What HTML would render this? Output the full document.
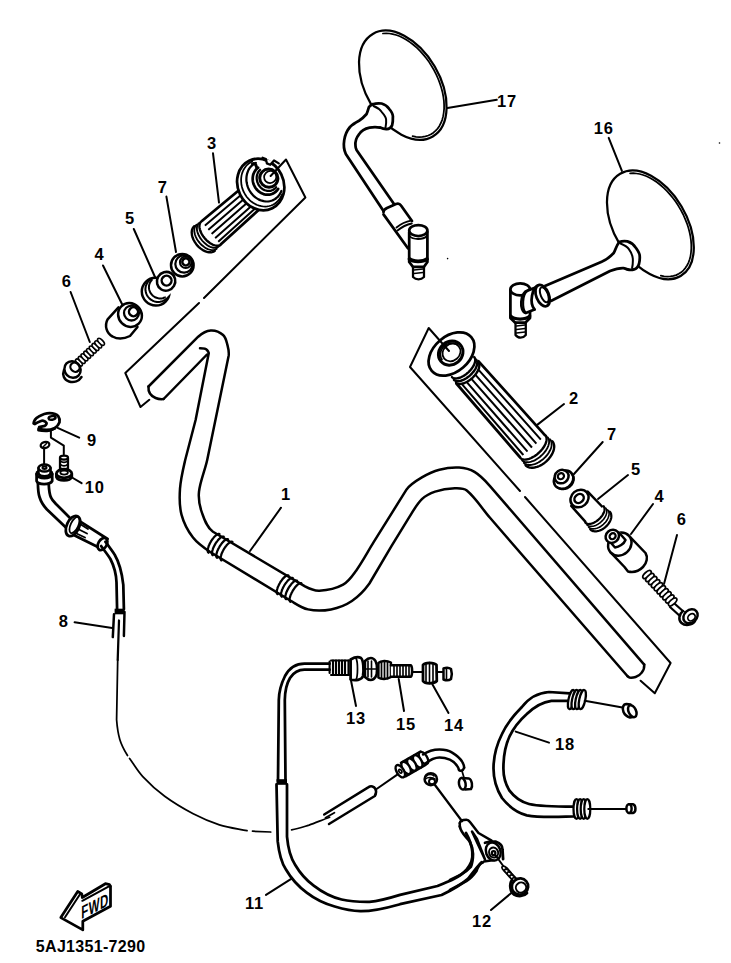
<!DOCTYPE html>
<html><head><meta charset="utf-8"><style>
html,body{margin:0;padding:0;background:#fff;width:731px;height:963px;overflow:hidden}
svg{display:block}
text{font-family:"Liberation Sans",sans-serif;font-weight:bold;font-size:16.5px;letter-spacing:0.7px;stroke:none;text-anchor:middle;fill:#000}
</style></head><body>
<svg width="731" height="963" viewBox="0 0 731 963">
<g fill="none" stroke="#000" stroke-linecap="round" stroke-linejoin="round">
<text x="286" y="499.9">1</text>
<text x="574" y="403.9">2</text>
<text x="212" y="148.9">3</text>
<text x="99.4" y="259.9">4</text>
<text x="130" y="223.6">5</text>
<text x="66.8" y="286.9">6</text>
<text x="162.6" y="192.9">7</text>
<text x="659.5" y="501.9">4</text>
<text x="636" y="474.9">5</text>
<text x="681.7" y="525.4">6</text>
<text x="612" y="439.9">7</text>
<text x="63.6" y="626.5">8</text>
<text x="92" y="445.9">9</text>
<text x="94.7" y="492.9">10</text>
<text x="254.4" y="908.9">11</text>
<text x="482" y="926.9">12</text>
<text x="356" y="723.9">13</text>
<text x="454" y="730.9">14</text>
<text x="406" y="729.5">15</text>
<text x="603.7" y="133.9">16</text>
<text x="507" y="106.9">17</text>
<text x="565" y="749.9">18</text>
<line x1="281" y1="507.7" x2="250" y2="551" stroke-width="2.00"/>
<line x1="564" y1="404" x2="537.5" y2="424.6" stroke-width="2.00"/>
<line x1="213" y1="153.3" x2="219" y2="202.6" stroke-width="2.00"/>
<line x1="103" y1="265.5" x2="122" y2="304" stroke-width="2.00"/>
<line x1="133.8" y1="229" x2="155" y2="277" stroke-width="2.00"/>
<line x1="70.6" y1="292" x2="89.8" y2="342" stroke-width="2.00"/>
<line x1="166.4" y1="196.6" x2="176" y2="252" stroke-width="2.00"/>
<line x1="653" y1="504" x2="631" y2="534" stroke-width="2.00"/>
<line x1="628" y1="475" x2="598" y2="499" stroke-width="2.00"/>
<line x1="677" y1="535" x2="664" y2="584" stroke-width="2.00"/>
<line x1="602.7" y1="442" x2="574" y2="474" stroke-width="2.00"/>
<line x1="74.6" y1="622.3" x2="112.2" y2="627.9" stroke-width="2.00"/>
<line x1="57.6" y1="427.8" x2="79.2" y2="437.6" stroke-width="2.00"/>
<line x1="71.2" y1="477" x2="81.6" y2="483.2" stroke-width="2.00"/>
<line x1="491" y1="910" x2="511.3" y2="893" stroke-width="2.00"/>
<line x1="350.7" y1="679" x2="356" y2="706" stroke-width="2.00"/>
<line x1="432.5" y1="684.5" x2="448.5" y2="713" stroke-width="2.00"/>
<line x1="398.7" y1="679" x2="404" y2="711" stroke-width="2.00"/>
<line x1="608.7" y1="137.9" x2="621.9" y2="170.9" stroke-width="2.00"/>
<line x1="447.5" y1="108" x2="496.8" y2="99.8" stroke-width="2.00"/>
<line x1="515.7" y1="731.6" x2="549" y2="742.6" stroke-width="2.00"/>
<path d="M148.5,386.5 L198.2,336.7 C201.7,333.6 206.1,330.8 210.7,330.5 C215.1,330.2 219.8,332.1 223.1,335.0 C226.0,337.6 226.6,341.9 227.6,345.6 C228.5,349.0 229.2,352.6 228.6,356.0 L207.2,460 C204.9,470.6 200.2,480.8 199.0,491.6 C198.3,498.3 199.4,505.3 201.6,511.7 C204.1,519.0 206.8,527.3 213.0,531.8 L305,586.4 C309.4,588.8 314.4,590.9 319.4,590.7 C327.5,590.3 336.0,588.5 343.1,584.6 C348.8,581.5 352.5,575.6 356.3,570.4 C362.8,561.3 367.9,551.4 373.8,541.9 L406.6,489.4 C410.5,484.2 416.3,480.7 421.9,477.4 C427.4,474.1 433.2,471.3 439.4,469.7 C445.8,468.0 452.5,467.1 459.1,467.5 C464.4,467.8 469.9,469.1 474.5,471.9 C480.5,475.5 485.4,480.8 490.0,486.1 L644.2,664.6" stroke-width="2.50" />
<path d="M163.6,399 L207,354.5 M200,348.2 C204,348.2 206.3,349 207,350 C208,351 208.5,352 208.8,353 L195.6,420 L185.2,460 C183.0,469.5 180.7,479.0 180.0,488.7 C179.4,497.3 179.3,506.2 181.5,514.6 C183.7,522.9 187.8,530.8 193.0,537.6 C197.6,543.5 203.9,547.9 210.2,552.0 L290.7,600.8 C296.3,604.1 301.7,608.1 308.0,609.4 C315.5,611.0 323.5,610.8 331.0,609.4 C338.4,608.0 345.7,605.2 351.9,601.0 C358.7,596.4 364.6,590.2 369.4,583.5 L391.3,546.3 L408.8,517.8 C412.9,511.4 416.5,504.6 421.9,499.2 C425.5,495.6 430.3,493.2 435.1,491.6 C441.4,489.5 448.1,488.5 454.8,488.3 C458.9,488.2 463.7,487.9 466.8,490.5 C476.0,498.2 482.2,508.8 490.0,517.8 L627.6,676.3" stroke-width="2.50" />
<path d="M148.5,386.5 C148,392 151,396 155.6,398 C158,399 161,399.3 163.6,399" stroke-width="2.50" />
<path d="M644.2,664.6 C644.5,668 643.5,670.5 641.7,672.6 C640,675 638,676.3 635.6,677 C633,677.8 631,677.8 629.4,677.6 L627.6,676.3" stroke-width="2.50" />
<ellipse cx="402.8" cy="85.2" rx="59.4" ry="37" transform="rotate(59.7 402.8 85.2)" stroke-width="2.25" fill="none"/>
<path d="M382.9,33.5 L386.1,33.3 L389.4,33.5 L392.7,34.1 L396.2,35.0 L399.7,36.3 L403.2,38.0 L406.7,40.0 L410.2,42.4 L413.6,45.0 L417.0,47.9 L420.2,51.1 L423.3,54.6 L426.3,58.3 L429.1,62.1 L431.7,66.2 L434.1,70.3 L436.3,74.6 L438.2,79.0 L439.9,83.4 L441.3,87.8 L442.5,92.2 L443.3,96.5 L443.9,100.8 L444.1,104.9 L444.1,108.9 L443.7,112.8 L443.1,116.4 L442.2,119.8 L440.9,123.0 L439.4,125.9 L437.7,128.5 L435.7,130.7 L433.4,132.7 L431.0,134.3 L428.3,135.5 L425.4,136.4 L422.4,136.9 L419.3,137.1 L416.0,136.9 L412.6,136.2" stroke-width="1.75" />
<path d="M372.6,104.3 L381.6,103.5 L389.1,108.8 L392.9,116.3 L392.1,125.3 L386.9,129.1 L380.1,127.6 L369.6,127.6 L366.6,114 L368.8,107.3 Z" stroke-width="0.12" fill="#fff" stroke="none"/>
<path d="M372.6,104.3 C370,105.5 369,107 368.8,107.3 C368,110 367.5,112 366.6,114 C364,117 362,119 359,120.8 C355,123 352,125 350,127 C344,134 342,146 345.8,154 L383.5,211" stroke-width="2.75" />
<path d="M380.1,127.6 C377,127 373,127 369.6,127.6 C365,128.5 361,131 359,134.4 C356,138 355,142 355.5,146 C355.5,148 356,149 356.7,150.2 L394,204" stroke-width="2.75" />
<path d="M372.6,104.3 C375.5,103.3 378.5,103 381.6,103.5 C385,104.5 387.5,106.5 389.1,108.8 C391.5,111.5 392.9,114 392.9,116.3 C393,120 392.8,123 392.1,125.3 C391,127.5 389,129 386.9,129.1 C384.5,129.3 382,128.5 380.1,127.6" stroke-width="2.75" />
<path d="M373.5,106 C377,107.5 380,109.5 381.6,111.8 C384,114.5 385.8,117 386.1,119.3 C386.5,122.5 386,125.5 385.4,128.4" stroke-width="2.00" />
<path d="M383.5,214.4 L407.9,248.2" stroke-width="2.75" />
<path d="M383.5,212.3 C383,210 385,209 387,208 L396,204 C398.5,203 400,204 401,205.5 L412,221" stroke-width="2.75" />
<path d="M396.5,227.4 C402,223 406,221.5 411,220.6 M397.5,230.5 C403,226 407,224.5 411.8,223.5" stroke-width="1.88" />
<path d="M409.2,232 L409.2,262 L413,266.8 L424,266.8 L427.4,262 L427.4,232" stroke-width="2.75" fill="#fff"/>
<ellipse cx="418.3" cy="230.5" rx="9.1" ry="5.5" transform="rotate(0 418.3 230.5)" stroke-width="2.75" fill="#fff"/>
<path d="M409.5,236 C413,240 423,240 427,236" stroke-width="1.88" />
<path d="M409.5,259 C413,262 423,262 427,259" stroke-width="3.75" />
<path d="M413,266.8 L413,277 C416,280 421,280 424,277 L424,266.8" stroke-width="2.25" />
<path d="M414,270 L423,269 M414,273.5 L423,272.5" stroke-width="1.62" />
<ellipse cx="650.4" cy="224.9" rx="59.4" ry="36.2" transform="rotate(59.4 650.4 224.9)" stroke-width="2.25" fill="none"/>
<path d="M630.1,173.4 L633.2,173.2 L636.4,173.5 L639.7,174.0 L643.1,175.0 L646.6,176.3 L650.1,178.0 L653.5,180.0 L657.0,182.3 L660.4,185.0 L663.7,187.9 L667.0,191.1 L670.1,194.6 L673.1,198.2 L675.9,202.1 L678.5,206.1 L681.0,210.3 L683.2,214.5 L685.1,218.9 L686.9,223.3 L688.3,227.6 L689.5,232.0 L690.4,236.3 L691.0,240.6 L691.3,244.7 L691.3,248.7 L691.0,252.5 L690.5,256.1 L689.6,259.5 L688.5,262.6 L687.0,265.5 L685.3,268.1 L683.4,270.3 L681.2,272.3 L678.8,273.8 L676.2,275.1 L673.4,275.9 L670.5,276.4 L667.4,276.6 L664.1,276.3 L660.8,275.7" stroke-width="1.75" />
<path d="M619.2,242.1 L627.4,241.4 L635.6,247.5 L639.7,255.8 L639,264 L634.2,269.4 L627.4,269.4 L623.3,268.1 L613.7,269.4 L613.7,253 L616.4,244.8 Z" stroke-width="0.12" fill="#fff" stroke="none"/>
<path d="M544.3,286.3 L601.7,261.7 C606,260 610,257 613.7,253 C615.5,250 616,246 619.2,242.1" stroke-width="2.75" />
<path d="M551.4,300.7 L610,271 C615,269 620,268 623.3,268.1 C625,268.3 626,269 627.4,269.4" stroke-width="2.75" />
<path d="M619.2,242.1 C622,241 625,241 627.4,241.4 C631,242.5 634,245 635.6,247.5 C638,251 639.7,253 639.7,255.8 C640,259 639.5,262 639,264 C638,267 636,269 634.2,269.4 C632,270 629.5,270 627.4,269.4" stroke-width="2.75" />
<path d="M620.5,243.5 C624,245 627,246.5 628.7,248.9 C631,252 632.5,255 632.8,258.5 C633,262 632.8,265 632.1,268" stroke-width="2.00" />
<path d="M510.4,290 L510.4,318 L515,322.5 L525.5,322.5 L530,318 L530,290" stroke-width="2.75" fill="#fff"/>
<ellipse cx="520.2" cy="289.4" rx="9.8" ry="6" transform="rotate(0 520.2 289.4)" stroke-width="2.75" fill="#fff"/>
<path d="M510.7,316 C514,320 526,320 529.7,316" stroke-width="3.25" />
<path d="M515.5,322.5 L515.5,335 C518,338.5 523,338.5 525.8,335 L525.8,322.5" stroke-width="2.25" />
<path d="M516.5,326 L525,325 M516.5,329.5 L525,328.5 M516.5,333 L525,332" stroke-width="1.62" />
<path d="M537,287 L528,290.4 C520,293 519,311 525.8,313 L534.5,309.5 Z" stroke-width="2.75" fill="#fff"/>
<path d="M528,290.4 C522,294 522,309 525.8,313" stroke-width="2.00" />
<path d="M538,285 C532,287 529,304 534,309.5 L546,304 L544,284.5 Z" stroke-width="0.12" fill="#fff" stroke="none"/>
<path d="M539,285.2 C532,287 529,303 534.5,309.5" stroke-width="2.75" />
<ellipse cx="542.6" cy="295.6" rx="6.3" ry="11.2" transform="rotate(-22 542.6 295.6)" stroke-width="2.75" fill="#fff"/>
<ellipse cx="544.3" cy="294.8" rx="3.6" ry="8" transform="rotate(-22 544.3 294.8)" stroke-width="2.00" fill="none"/>
<path d="M202.2,220.8 L239.2,190 L258.9,209.7 L219.5,245.4 Z" stroke-width="0.12" fill="#fff" stroke="none"/>
<path d="M202.2,220.8 L239.2,190 M219.5,245.4 L258.9,209.7" stroke-width="2.75" />
<path d="M205.3,225.2 L242.7,193.5" stroke-width="2.00" />
<path d="M208.4,229.7 L246.3,197.1" stroke-width="2.00" />
<path d="M211.5,234.1 L249.8,200.6" stroke-width="2.00" />
<path d="M214.7,238.5 L253.4,204.2" stroke-width="2.00" />
<path d="M217.4,242.4 L256.5,207.3" stroke-width="2.00" />
<path d="M220.5,244.6 L220.0,245.0 L219.4,245.3 L218.8,245.5 L218.1,245.6 L217.4,245.7 L216.7,245.7 L215.9,245.6 L215.0,245.4 L214.2,245.2 L213.3,244.9 L212.5,244.5 L211.6,244.0 L210.7,243.5 L209.8,242.9 L208.9,242.2 L208.0,241.5 L207.1,240.8 L206.3,240.0 L205.5,239.1 L204.7,238.2 L204.0,237.3 L203.3,236.4 L202.6,235.4 L202.0,234.4 L201.5,233.5 L201.0,232.5 L200.6,231.5 L200.2,230.5 L199.9,229.5 L199.7,228.6 L199.5,227.7 L199.4,226.8 L199.4,226.0 L199.5,225.2 L199.6,224.5 L199.8,223.8 L200.0,223.1 L200.4,222.6 L200.8,222.0 L201.2,221.6 Z" stroke-width="0.12" fill="#fff" stroke="none"/>
<path d="M214.8,250.8 L214.2,251.2 L213.5,251.6 L212.7,251.9 L211.9,252.1 L211.1,252.3 L210.2,252.3 L209.3,252.3 L208.3,252.2 L207.3,252.0 L206.4,251.7 L205.4,251.3 L204.3,250.9 L203.3,250.4 L202.3,249.8 L201.4,249.1 L200.4,248.4 L199.5,247.6 L198.5,246.8 L197.7,245.9 L196.8,244.9 L196.1,243.9 L195.3,242.9 L194.7,241.9 L194.0,240.8 L193.5,239.7 L193.0,238.7 L192.6,237.6 L192.3,236.5 L192.0,235.4 L191.8,234.4 L191.7,233.4 L191.7,232.4 L191.7,231.4 L191.9,230.5 L192.1,229.6 L192.4,228.8 L192.7,228.1 L193.1,227.4 L193.6,226.8 L194.2,226.2 Z" stroke-width="0.12" fill="#fff" stroke="none"/>
<path d="M220.5,244.6 L220.0,245.0 L219.4,245.3 L218.8,245.5 L218.1,245.6 L217.4,245.7 L216.7,245.7 L215.9,245.6 L215.0,245.4 L214.2,245.2 L213.3,244.9 L212.5,244.5 L211.6,244.0 L210.7,243.5 L209.8,242.9 L208.9,242.2 L208.0,241.5 L207.1,240.8 L206.3,240.0 L205.5,239.1 L204.7,238.2 L204.0,237.3 L203.3,236.4 L202.6,235.4 L202.0,234.4 L201.5,233.5 L201.0,232.5 L200.6,231.5 L200.2,230.5 L199.9,229.5 L199.7,228.6 L199.5,227.7 L199.4,226.8 L199.4,226.0 L199.5,225.2 L199.6,224.5 L199.8,223.8 L200.0,223.1 L200.4,222.6 L200.8,222.0 L201.2,221.6" stroke-width="2.38" />
<path d="M218.6,246.6 L218.1,247.0 L217.4,247.4 L216.8,247.6 L216.1,247.8 L215.3,247.9 L214.5,247.9 L213.7,247.8 L212.8,247.7 L211.9,247.4 L211.0,247.1 L210.1,246.8 L209.2,246.3 L208.2,245.8 L207.3,245.2 L206.4,244.5 L205.5,243.8 L204.6,243.1 L203.7,242.2 L202.9,241.4 L202.1,240.5 L201.4,239.5 L200.7,238.6 L200.0,237.6 L199.4,236.6 L198.8,235.6 L198.4,234.5 L197.9,233.5 L197.6,232.5 L197.3,231.5 L197.1,230.5 L196.9,229.6 L196.9,228.7 L196.9,227.8 L197.0,227.0 L197.1,226.2 L197.3,225.5 L197.6,224.8 L198.0,224.2 L198.4,223.6 L198.9,223.2" stroke-width="1.88" />
<path d="M216.7,248.7 L216.1,249.1 L215.5,249.5 L214.8,249.8 L214.0,250.0 L213.2,250.1 L212.4,250.1 L211.5,250.1 L210.6,249.9 L209.7,249.7 L208.7,249.4 L207.8,249.1 L206.8,248.6 L205.8,248.1 L204.9,247.5 L203.9,246.8 L203.0,246.1 L202.0,245.3 L201.2,244.5 L200.3,243.6 L199.5,242.7 L198.7,241.7 L198.0,240.7 L197.3,239.7 L196.7,238.7 L196.2,237.6 L195.7,236.6 L195.3,235.5 L194.9,234.5 L194.7,233.5 L194.5,232.5 L194.3,231.5 L194.3,230.5 L194.3,229.6 L194.4,228.7 L194.6,227.9 L194.9,227.1 L195.2,226.4 L195.6,225.8 L196.0,225.2 L196.6,224.7" stroke-width="1.88" />
<path d="M214.8,250.8 L214.2,251.2 L213.5,251.6 L212.8,251.9 L212.0,252.1 L211.1,252.3 L210.2,252.3 L209.3,252.3 L208.4,252.2 L207.4,252.0 L206.4,251.7 L205.4,251.3 L204.4,250.9 L203.4,250.4 L202.4,249.8 L201.4,249.1 L200.4,248.4 L199.5,247.6 L198.6,246.8 L197.7,245.9 L196.9,244.9 L196.1,243.9 L195.4,242.9 L194.7,241.9 L194.1,240.8 L193.5,239.7 L193.1,238.7 L192.6,237.6 L192.3,236.5 L192.0,235.4 L191.9,234.4 L191.8,233.4 L191.7,232.4 L191.8,231.4 L191.9,230.5 L192.1,229.6 L192.4,228.8 L192.8,228.1 L193.2,227.4 L193.7,226.8 L194.3,226.2" stroke-width="2.38" />
<ellipse cx="260.7" cy="184.5" rx="26.4" ry="22.9" transform="rotate(64 260.7 184.5)" stroke-width="2.75" fill="#fff"/>
<path d="M282.1,194.3 L281.2,196.2 L280.2,198.0 L279.1,199.7 L277.7,201.2 L276.3,202.5 L274.7,203.7 L273.0,204.7 L271.2,205.5 L269.3,206.0 L267.3,206.4 L265.3,206.6 L263.3,206.5 L261.3,206.2 L259.2,205.7 L257.2,205.0 L255.3,204.1 L253.4,203.0 L251.6,201.8 L249.9,200.3 L248.3,198.7 L246.8,197.0 L245.5,195.1 L244.4,193.1 L243.3,191.0 L242.5,188.9 L241.9,186.7 L241.4,184.5 L241.2,182.2 L241.1,180.0 L241.2,177.8 L241.5,175.6 L242.0,173.6 L242.7,171.6 L243.6,169.7 L244.7,167.9 L245.9,166.3 L247.2,164.8 L248.7,163.5 L250.4,162.4 L252.1,161.5" stroke-width="1.75" />
<path d="M281.4,191.0 L280.7,192.6 L279.8,194.2 L278.8,195.6 L277.7,196.9 L276.4,198.0 L275.1,199.0 L273.6,199.9 L272.1,200.5 L270.5,201.0 L268.8,201.3 L267.1,201.5 L265.4,201.4 L263.6,201.2 L261.9,200.7 L260.2,200.1 L258.5,199.4 L256.9,198.4 L255.4,197.4 L253.9,196.1 L252.6,194.8 L251.3,193.3 L250.2,191.7 L249.2,190.0 L248.3,188.2 L247.6,186.4 L247.1,184.5 L246.7,182.6 L246.4,180.7 L246.4,178.8 L246.5,176.9 L246.8,175.0 L247.2,173.3 L247.8,171.6 L248.5,169.9 L249.4,168.4 L250.5,167.0 L251.6,165.8 L252.9,164.7 L254.3,163.7 L255.8,162.9" stroke-width="2.25" />
<path d="M278.1,188.9 L277.4,189.9 L276.7,190.8 L275.8,191.6 L274.9,192.4 L273.9,193.0 L272.9,193.6 L271.8,194.0 L270.6,194.4 L269.5,194.6 L268.3,194.7 L267.1,194.7 L265.9,194.6 L264.7,194.4 L263.5,194.1 L262.3,193.6 L261.2,193.1 L260.1,192.4 L259.1,191.7 L258.1,190.9 L257.2,190.0 L256.3,189.0 L255.5,188.0 L254.9,186.8 L254.3,185.7 L253.7,184.5 L253.3,183.2 L253.0,182.0 L252.8,180.7 L252.7,179.4 L252.7,178.1 L252.8,176.9 L253.0,175.6 L253.3,174.4 L253.8,173.2 L254.3,172.1 L254.9,171.1 L255.6,170.1 L256.3,169.2 L257.2,168.4 L258.1,167.6" stroke-width="2.75" />
<path d="M276.1,187.2 L275.6,187.9 L275.0,188.5 L274.3,189.1 L273.6,189.5 L272.8,190.0 L272.0,190.3 L271.2,190.6 L270.3,190.8 L269.4,190.9 L268.6,190.9 L267.7,190.9 L266.8,190.8 L265.9,190.5 L265.0,190.3 L264.1,189.9 L263.3,189.5 L262.5,189.0 L261.7,188.4 L261.0,187.8 L260.3,187.1 L259.6,186.3 L259.1,185.5 L258.5,184.7 L258.1,183.8 L257.7,182.9 L257.3,182.0 L257.1,181.0 L256.9,180.0 L256.7,179.1 L256.7,178.1 L256.7,177.1 L256.8,176.2 L257.0,175.3 L257.2,174.4 L257.6,173.5 L257.9,172.7 L258.4,171.9 L258.9,171.1 L259.5,170.5 L260.1,169.8" stroke-width="2.25" />
<ellipse cx="268.8" cy="178.2" rx="9.2" ry="9" transform="rotate(45 268.8 178.2)" stroke-width="3.00" fill="#fff"/>
<ellipse cx="270.2" cy="177" rx="6" ry="6.2" transform="rotate(45 270.2 177)" stroke-width="1.75" fill="none"/>
<path d="M262.6,157.7 L265.9,159 L266.9,163.4 L270.2,164.8 L274,160.5 L278.8,163.4" stroke-width="2.25" fill="#fff"/>
<path d="M252.5,164 C254,163 256,164 256.5,167" stroke-width="3.00" />
<ellipse cx="182.3" cy="265.2" rx="11.3" ry="11.3" transform="rotate(45 182.3 265.2)" stroke-width="2.50" fill="#fff"/>
<ellipse cx="183.9" cy="264.1" rx="8.7" ry="8.5" transform="rotate(45 183.9 264.1)" stroke-width="2.25" fill="#fff"/>
<ellipse cx="185.7" cy="262.3" rx="5.8" ry="5.8" transform="rotate(45 185.7 262.3)" stroke-width="2.00" fill="#fff"/>
<ellipse cx="185.9" cy="261.9" rx="3.6" ry="3.6" transform="rotate(45 185.9 261.9)" stroke-width="2.50" fill="none"/>
<ellipse cx="155.7" cy="291.7" rx="14" ry="13.8" transform="rotate(45 155.7 291.7)" stroke-width="2.50" fill="#fff"/>
<path d="M167.9,296.9 L167.2,297.8 L166.5,298.5 L165.8,299.2 L164.9,299.9 L164.0,300.4 L163.1,300.9 L162.1,301.3 L161.1,301.6 L160.1,301.8 L159.0,301.9 L157.9,301.9 L156.9,301.9 L155.8,301.7 L154.8,301.5 L153.7,301.1 L152.7,300.7 L151.8,300.2 L150.9,299.6 L150.0,298.9 L149.2,298.2 L148.5,297.4 L147.8,296.5 L147.2,295.6 L146.7,294.7 L146.3,293.7 L145.9,292.6 L145.7,291.6 L145.5,290.5 L145.4,289.4 L145.5,288.4 L145.6,287.3 L145.8,286.3 L146.1,285.3 L146.5,284.3 L147.0,283.4 L147.5,282.5 L148.2,281.6 L148.9,280.9 L149.6,280.2 L150.5,279.5" stroke-width="2.00" />
<path d="M167.5,295.5 L166.9,296.0 L166.2,296.5 L165.5,297.0 L164.8,297.4 L164.0,297.7 L163.3,298.0 L162.5,298.2 L161.6,298.4 L160.8,298.4 L159.9,298.4 L159.1,298.4 L158.3,298.3 L157.4,298.1 L156.6,297.8 L155.8,297.5 L155.0,297.2 L154.3,296.7 L153.6,296.2 L152.9,295.7 L152.3,295.1 L151.7,294.5 L151.2,293.8 L150.7,293.1 L150.2,292.4 L149.9,291.6 L149.6,290.8 L149.3,290.0 L149.1,289.1 L149.0,288.3 L148.9,287.4 L149.0,286.6 L149.0,285.8 L149.2,284.9 L149.4,284.1 L149.7,283.4 L150.0,282.6 L150.4,281.9 L150.9,281.2 L151.4,280.5 L151.9,279.9" stroke-width="2.00" />
<path d="M158,275 L164,282 L173,291 L166,298 Z" stroke-width="0.12" fill="#fff" stroke="none"/>
<ellipse cx="166.1" cy="281.3" rx="9.1" ry="9.5" transform="rotate(30 166.1 281.3)" stroke-width="2.50" fill="#fff"/>
<ellipse cx="166.6" cy="280.6" rx="4.9" ry="4.9" transform="rotate(45 166.6 280.6)" stroke-width="2.50" fill="none"/>
<path d="M118.5,307.4 L107.6,319.4 C104,326 107,334 112.5,336.5 C117,339 124,339 130,336 L137.5,327" stroke-width="2.50" fill="#fff"/>
<ellipse cx="130" cy="315" rx="12.3" ry="11.5" transform="rotate(45 130 315)" stroke-width="2.50" fill="#fff"/>
<ellipse cx="131.5" cy="313" rx="7.5" ry="7.5" transform="rotate(45 131.5 313)" stroke-width="2.25" fill="#fff"/>
<ellipse cx="133.5" cy="311.8" rx="4.5" ry="4.5" transform="rotate(45 133.5 311.8)" stroke-width="2.50" fill="none"/>
<ellipse cx="79.0" cy="362.5" rx="2.0" ry="4.4" transform="rotate(-44 79.0 362.5)" stroke-width="1.62" fill="#fff"/>
<ellipse cx="81.75" cy="359.9125" rx="2.0" ry="4.4" transform="rotate(-44 81.75 359.9125)" stroke-width="1.62" fill="#fff"/>
<ellipse cx="84.5" cy="357.325" rx="2.0" ry="4.4" transform="rotate(-44 84.5 357.325)" stroke-width="1.62" fill="#fff"/>
<ellipse cx="87.25" cy="354.7375" rx="2.0" ry="4.4" transform="rotate(-44 87.25 354.7375)" stroke-width="1.62" fill="#fff"/>
<ellipse cx="90.0" cy="352.15" rx="2.0" ry="4.4" transform="rotate(-44 90.0 352.15)" stroke-width="1.62" fill="#fff"/>
<ellipse cx="92.75" cy="349.5625" rx="2.0" ry="4.4" transform="rotate(-44 92.75 349.5625)" stroke-width="1.62" fill="#fff"/>
<ellipse cx="95.5" cy="346.975" rx="2.0" ry="4.4" transform="rotate(-44 95.5 346.975)" stroke-width="1.62" fill="#fff"/>
<ellipse cx="98.25" cy="344.3875" rx="2.0" ry="4.4" transform="rotate(-44 98.25 344.3875)" stroke-width="1.62" fill="#fff"/>
<ellipse cx="101.0" cy="341.8" rx="2.0" ry="4.4" transform="rotate(-44 101.0 341.8)" stroke-width="1.62" fill="#fff"/>
<path d="M64,370 C62,375 64,380 69,381.5 C74,383 79,381 81.5,377" stroke-width="2.50" fill="#fff"/>
<ellipse cx="72.5" cy="369.5" rx="8.5" ry="7.8" transform="rotate(45 72.5 369.5)" stroke-width="2.50" fill="#fff"/>
<ellipse cx="75" cy="367.2" rx="4.8" ry="4.4" transform="rotate(45 75 367.2)" stroke-width="2.25" fill="none"/>
<path d="M478.6,361.3 L546,436.4 L519.8,457 L456.4,383.5 Z" stroke-width="0.12" fill="#fff" stroke="none"/>
<path d="M478.6,361.3 L546,436.4 M456.4,383.5 L519.8,457" stroke-width="2.75" />
<path d="M474.6,365.3 L541.3,440.1" stroke-width="2.00" />
<path d="M470.6,369.3 L536.6,443.8" stroke-width="2.00" />
<path d="M466.6,373.3 L531.9,447.5" stroke-width="2.00" />
<path d="M462.6,377.3 L527.1,451.2" stroke-width="2.00" />
<path d="M459.1,380.8 L522.9,454.5" stroke-width="2.00" />
<path d="M545.4,435.5 L545.8,436.0 L546.1,436.6 L546.4,437.2 L546.5,438.0 L546.6,438.7 L546.6,439.6 L546.5,440.4 L546.3,441.3 L546.1,442.3 L545.7,443.2 L545.3,444.2 L544.8,445.2 L544.3,446.2 L543.6,447.2 L542.9,448.2 L542.2,449.2 L541.3,450.2 L540.5,451.2 L539.5,452.1 L538.6,453.0 L537.6,453.9 L536.6,454.7 L535.5,455.5 L534.5,456.2 L533.4,456.8 L532.3,457.4 L531.2,458.0 L530.2,458.4 L529.1,458.8 L528.1,459.1 L527.1,459.4 L526.1,459.5 L525.2,459.6 L524.4,459.6 L523.5,459.5 L522.8,459.3 L522.1,459.1 L521.5,458.8 L520.9,458.4 L520.4,457.9 Z" stroke-width="0.12" fill="#fff" stroke="none"/>
<path d="M552.4,441.0 L552.9,441.6 L553.4,442.4 L553.7,443.2 L554.0,444.1 L554.2,445.0 L554.3,446.0 L554.3,447.0 L554.1,448.1 L554.0,449.2 L553.7,450.3 L553.3,451.4 L552.8,452.5 L552.3,453.7 L551.6,454.8 L550.9,455.9 L550.1,457.1 L549.3,458.1 L548.4,459.2 L547.4,460.2 L546.4,461.2 L545.3,462.1 L544.2,463.0 L543.0,463.8 L541.9,464.5 L540.7,465.2 L539.5,465.8 L538.3,466.3 L537.1,466.7 L535.9,467.0 L534.7,467.3 L533.6,467.5 L532.5,467.5 L531.4,467.5 L530.4,467.4 L529.5,467.3 L528.6,467.0 L527.7,466.6 L526.9,466.2 L526.2,465.6 L525.6,465.0 Z" stroke-width="0.12" fill="#fff" stroke="none"/>
<path d="M545.4,435.5 L545.8,436.0 L546.1,436.6 L546.4,437.2 L546.5,438.0 L546.6,438.7 L546.6,439.6 L546.5,440.4 L546.3,441.3 L546.1,442.3 L545.7,443.2 L545.3,444.2 L544.8,445.2 L544.3,446.2 L543.6,447.2 L542.9,448.2 L542.2,449.2 L541.3,450.2 L540.5,451.2 L539.5,452.1 L538.6,453.0 L537.6,453.9 L536.6,454.7 L535.5,455.5 L534.5,456.2 L533.4,456.8 L532.3,457.4 L531.2,458.0 L530.2,458.4 L529.1,458.8 L528.1,459.1 L527.1,459.4 L526.1,459.5 L525.2,459.6 L524.4,459.6 L523.5,459.5 L522.8,459.3 L522.1,459.1 L521.5,458.8 L520.9,458.4 L520.4,457.9" stroke-width="2.38" />
<path d="M547.7,437.4 L548.1,437.9 L548.5,438.6 L548.8,439.3 L549.0,440.1 L549.1,440.9 L549.1,441.8 L549.1,442.7 L548.9,443.6 L548.7,444.6 L548.4,445.6 L548.0,446.7 L547.5,447.7 L546.9,448.8 L546.3,449.8 L545.6,450.9 L544.8,451.9 L544.0,452.9 L543.1,453.9 L542.1,454.9 L541.1,455.8 L540.1,456.7 L539.1,457.5 L538.0,458.3 L536.9,459.0 L535.8,459.7 L534.7,460.3 L533.5,460.8 L532.4,461.2 L531.3,461.6 L530.3,461.9 L529.2,462.1 L528.2,462.3 L527.3,462.3 L526.3,462.3 L525.5,462.2 L524.7,462.0 L523.9,461.7 L523.3,461.3 L522.6,460.9 L522.1,460.4" stroke-width="1.88" />
<path d="M550.0,439.3 L550.5,439.9 L550.9,440.6 L551.2,441.3 L551.4,442.2 L551.6,443.0 L551.6,444.0 L551.6,444.9 L551.5,445.9 L551.3,447.0 L551.0,448.0 L550.6,449.1 L550.1,450.2 L549.5,451.3 L548.9,452.4 L548.2,453.5 L547.4,454.6 L546.6,455.6 L545.7,456.7 L544.7,457.6 L543.7,458.6 L542.7,459.5 L541.6,460.3 L540.5,461.1 L539.3,461.9 L538.2,462.5 L537.0,463.1 L535.9,463.6 L534.7,464.1 L533.6,464.4 L532.5,464.7 L531.4,464.9 L530.3,465.0 L529.3,465.0 L528.3,465.0 L527.4,464.8 L526.6,464.6 L525.8,464.2 L525.0,463.8 L524.4,463.4 L523.8,462.8" stroke-width="1.88" />
<path d="M552.3,441.2 L552.8,441.8 L553.3,442.6 L553.6,443.4 L553.9,444.3 L554.1,445.2 L554.2,446.2 L554.2,447.2 L554.0,448.3 L553.9,449.4 L553.6,450.5 L553.2,451.6 L552.7,452.7 L552.2,453.9 L551.5,455.0 L550.8,456.1 L550.0,457.3 L549.2,458.3 L548.3,459.4 L547.3,460.4 L546.3,461.4 L545.2,462.3 L544.1,463.2 L542.9,464.0 L541.8,464.7 L540.6,465.4 L539.4,466.0 L538.2,466.5 L537.0,466.9 L535.8,467.2 L534.6,467.5 L533.5,467.7 L532.4,467.7 L531.3,467.7 L530.3,467.6 L529.4,467.5 L528.5,467.2 L527.6,466.8 L526.8,466.4 L526.1,465.8 L525.5,465.2" stroke-width="2.38" />
<path d="M478.2,362.5 L478.6,362.9 L478.9,363.5 L479.1,364.0 L479.3,364.7 L479.3,365.4 L479.3,366.1 L479.2,366.9 L479.1,367.7 L478.8,368.5 L478.5,369.3 L478.2,370.2 L477.7,371.1 L477.2,372.0 L476.6,372.9 L476.0,373.8 L475.3,374.7 L474.6,375.6 L473.8,376.4 L473.0,377.3 L472.1,378.1 L471.2,378.8 L470.3,379.6 L469.4,380.3 L468.4,380.9 L467.5,381.5 L466.5,382.0 L465.6,382.5 L464.6,382.9 L463.7,383.3 L462.8,383.5 L461.9,383.8 L461.0,383.9 L460.2,384.0 L459.4,384.0 L458.7,383.9 L458.0,383.8 L457.4,383.6 L456.9,383.3 L456.4,382.9 L456.0,382.5 Z" stroke-width="0.12" fill="#fff" stroke="none"/>
<path d="M456.0,382.5 L455.6,382.1 L455.3,381.5 L455.1,381.0 L454.9,380.3 L454.9,379.6 L454.9,378.9 L455.0,378.1 L455.1,377.3 L455.4,376.5 L455.7,375.7 L456.0,374.8 L456.5,373.9 L457.0,373.0 L457.6,372.1 L458.2,371.2 L458.9,370.3 L459.6,369.4 L460.4,368.6 L461.2,367.7 L462.1,366.9 L463.0,366.2 L463.9,365.4 L464.8,364.7 L465.8,364.1 L466.7,363.5 L467.7,363.0 L468.6,362.5 L469.6,362.1 L470.5,361.7 L471.4,361.5 L472.3,361.2 L473.2,361.1 L474.0,361.0 L474.8,361.0 L475.5,361.1 L476.2,361.2 L476.8,361.4 L477.3,361.7 L477.8,362.1 L478.2,362.5 Z" stroke-width="0.12" fill="#fff" stroke="none"/>
<path d="M474.1,357.0 L474.5,357.4 L474.8,358.0 L475.0,358.5 L475.2,359.2 L475.2,359.9 L475.2,360.6 L475.1,361.4 L475.0,362.2 L474.7,363.0 L474.4,363.8 L474.1,364.7 L473.6,365.6 L473.1,366.5 L472.5,367.4 L471.9,368.3 L471.2,369.2 L470.5,370.1 L469.7,370.9 L468.9,371.8 L468.0,372.6 L467.1,373.3 L466.2,374.1 L465.3,374.8 L464.3,375.4 L463.4,376.0 L462.4,376.5 L461.5,377.0 L460.5,377.4 L459.6,377.8 L458.7,378.0 L457.8,378.3 L456.9,378.4 L456.1,378.5 L455.3,378.5 L454.6,378.4 L453.9,378.3 L453.3,378.1 L452.8,377.8 L452.3,377.4 L451.9,377.0" stroke-width="2.38" />
<path d="M476.2,359.7 L476.6,360.2 L476.8,360.7 L477.1,361.3 L477.2,361.9 L477.3,362.6 L477.3,363.3 L477.2,364.1 L477.0,364.9 L476.8,365.7 L476.5,366.6 L476.1,367.5 L475.7,368.4 L475.2,369.3 L474.6,370.2 L474.0,371.1 L473.3,371.9 L472.5,372.8 L471.8,373.7 L470.9,374.5 L470.1,375.3 L469.2,376.1 L468.3,376.8 L467.3,377.5 L466.4,378.2 L465.4,378.7 L464.5,379.3 L463.5,379.7 L462.6,380.2 L461.6,380.5 L460.7,380.8 L459.8,381.0 L459.0,381.1 L458.2,381.2 L457.4,381.2 L456.7,381.2 L456.0,381.0 L455.4,380.8 L454.8,380.5 L454.3,380.2 L453.9,379.8" stroke-width="2.38" />
<path d="M478.2,362.5 L478.6,362.9 L478.9,363.5 L479.1,364.0 L479.3,364.7 L479.3,365.4 L479.3,366.1 L479.2,366.9 L479.1,367.7 L478.8,368.5 L478.5,369.3 L478.2,370.2 L477.7,371.1 L477.2,372.0 L476.6,372.9 L476.0,373.8 L475.3,374.7 L474.6,375.6 L473.8,376.4 L473.0,377.3 L472.1,378.1 L471.2,378.8 L470.3,379.6 L469.4,380.3 L468.4,380.9 L467.5,381.5 L466.5,382.0 L465.6,382.5 L464.6,382.9 L463.7,383.3 L462.8,383.5 L461.9,383.8 L461.0,383.9 L460.2,384.0 L459.4,384.0 L458.7,383.9 L458.0,383.8 L457.4,383.6 L456.9,383.3 L456.4,382.9 L456.0,382.5" stroke-width="2.38" />
<ellipse cx="451.5" cy="354" rx="26" ry="17.8" transform="rotate(-40.5 451.5 354)" stroke-width="2.75" fill="#fff"/>
<ellipse cx="450.7" cy="353.1" rx="12.8" ry="11.5" transform="rotate(-40 450.7 353.1)" stroke-width="3.00" fill="none"/>
<ellipse cx="451.5" cy="352.5" rx="9.5" ry="8.2" transform="rotate(-40 451.5 352.5)" stroke-width="1.75" fill="none"/>
<path d="M441.9,359.4 L441.6,358.8 L441.3,358.2 L441.0,357.6 L440.8,357.0 L440.6,356.3 L440.5,355.6 L440.4,355.0 L440.4,354.3 L440.4,353.6 L440.5,352.9 L440.7,352.2 L440.8,351.5 L441.1,350.8 L441.3,350.1 L441.7,349.4 L442.0,348.8 L442.4,348.2 L442.9,347.6 L443.4,347.0 L443.9,346.5 L444.5,345.9 L445.0,345.5 L445.6,345.0 L446.3,344.6 L446.9,344.3 L447.6,344.0 L448.3,343.7 L449.0,343.5 L449.7,343.3 L450.4,343.2 L451.2,343.1 L451.9,343.0 L452.6,343.1 L453.3,343.1 L454.0,343.2 L454.6,343.4 L455.3,343.6 L455.9,343.9 L456.5,344.2 L457.1,344.5" stroke-width="1.75" />
<ellipse cx="563.6" cy="479.7" rx="10.3" ry="8.5" transform="rotate(-35 563.6 479.7)" stroke-width="2.50" fill="#fff"/>
<path d="M571.6,473.8 L572.0,474.3 L572.4,474.8 L572.8,475.3 L573.1,475.9 L573.4,476.5 L573.6,477.1 L573.7,477.7 L573.8,478.4 L573.8,479.1 L573.8,479.7 L573.7,480.4 L573.5,481.1 L573.3,481.8 L573.1,482.5 L572.8,483.1 L572.4,483.8 L572.0,484.4 L571.6,485.0 L571.1,485.6 L570.5,486.1 L570.0,486.6 L569.3,487.1 L568.7,487.5 L568.0,487.9 L567.4,488.3 L566.7,488.6 L565.9,488.8 L565.2,489.0 L564.5,489.1 L563.7,489.2 L563.0,489.3 L562.3,489.2 L561.6,489.2 L560.9,489.0 L560.3,488.8 L559.6,488.6 L559.0,488.3 L558.4,488.0 L557.9,487.6 L557.4,487.2" stroke-width="2.00" />
<ellipse cx="561.6" cy="476.6" rx="7.2" ry="6.5" transform="rotate(-35 561.6 476.6)" stroke-width="2.50" fill="#fff"/>
<ellipse cx="560.9" cy="476.2" rx="3.2" ry="2.9" transform="rotate(-35 560.9 476.2)" stroke-width="2.25" fill="none"/>
<path d="M587.7,491.7 L604.6,509.2 L587.1,523.5 L571.3,506 Z" stroke-width="0.12" fill="#fff" stroke="none"/>
<path d="M587.7,491.7 L603.5,508 M571.3,506 L585.5,521.8" stroke-width="2.50" />
<path d="M603.6,506.3 L603.9,506.7 L604.1,507.2 L604.3,507.7 L604.5,508.2 L604.5,508.8 L604.6,509.4 L604.5,510.1 L604.4,510.7 L604.2,511.4 L604.0,512.1 L603.7,512.9 L603.3,513.6 L602.9,514.4 L602.5,515.1 L602.0,515.8 L601.4,516.6 L600.8,517.3 L600.2,518.0 L599.5,518.7 L598.8,519.3 L598.1,520.0 L597.4,520.5 L596.6,521.1 L595.8,521.6 L595.0,522.1 L594.3,522.5 L593.5,522.9 L592.7,523.2 L591.9,523.5 L591.2,523.7 L590.4,523.8 L589.7,523.9 L589.0,524.0 L588.4,524.0 L587.8,523.9 L587.2,523.8 L586.7,523.6 L586.2,523.3 L585.8,523.0 L585.4,522.7 Z" stroke-width="0.12" fill="#fff" stroke="none"/>
<path d="M609.8,511.7 L610.2,512.2 L610.6,512.8 L610.9,513.4 L611.1,514.1 L611.2,514.8 L611.3,515.5 L611.3,516.3 L611.3,517.1 L611.2,517.9 L611.0,518.7 L610.7,519.6 L610.4,520.4 L610.0,521.3 L609.5,522.1 L609.0,523.0 L608.4,523.8 L607.8,524.6 L607.2,525.4 L606.4,526.1 L605.7,526.8 L604.9,527.5 L604.1,528.1 L603.2,528.7 L602.4,529.2 L601.5,529.7 L600.6,530.1 L599.7,530.5 L598.8,530.8 L598.0,531.0 L597.1,531.2 L596.2,531.3 L595.4,531.4 L594.6,531.3 L593.8,531.2 L593.1,531.1 L592.4,530.9 L591.8,530.6 L591.2,530.2 L590.7,529.8 L590.2,529.3 Z" stroke-width="0.12" fill="#fff" stroke="none"/>
<path d="M603.6,506.3 L603.9,506.7 L604.1,507.2 L604.3,507.7 L604.5,508.2 L604.5,508.8 L604.6,509.4 L604.5,510.1 L604.4,510.7 L604.2,511.4 L604.0,512.1 L603.7,512.9 L603.3,513.6 L602.9,514.4 L602.5,515.1 L602.0,515.8 L601.4,516.6 L600.8,517.3 L600.2,518.0 L599.5,518.7 L598.8,519.3 L598.1,520.0 L597.4,520.5 L596.6,521.1 L595.8,521.6 L595.0,522.1 L594.3,522.5 L593.5,522.9 L592.7,523.2 L591.9,523.5 L591.2,523.7 L590.4,523.8 L589.7,523.9 L589.0,524.0 L588.4,524.0 L587.8,523.9 L587.2,523.8 L586.7,523.6 L586.2,523.3 L585.8,523.0 L585.4,522.7" stroke-width="2.25" />
<path d="M605.6,508.1 L606.0,508.6 L606.3,509.0 L606.5,509.6 L606.7,510.2 L606.8,510.8 L606.8,511.4 L606.8,512.1 L606.7,512.8 L606.5,513.6 L606.3,514.3 L606.0,515.1 L605.7,515.9 L605.3,516.7 L604.8,517.4 L604.3,518.2 L603.8,519.0 L603.2,519.7 L602.5,520.4 L601.8,521.2 L601.1,521.8 L600.4,522.5 L599.6,523.1 L598.8,523.6 L598.0,524.2 L597.2,524.6 L596.4,525.1 L595.6,525.4 L594.7,525.7 L593.9,526.0 L593.1,526.2 L592.4,526.3 L591.6,526.4 L590.9,526.4 L590.2,526.4 L589.6,526.3 L589.0,526.1 L588.4,525.9 L587.9,525.6 L587.4,525.3 L587.0,524.9" stroke-width="1.62" />
<path d="M607.7,509.9 L608.1,510.4 L608.4,510.9 L608.7,511.5 L608.9,512.1 L609.0,512.8 L609.1,513.5 L609.1,514.2 L609.0,515.0 L608.8,515.7 L608.6,516.5 L608.4,517.3 L608.0,518.1 L607.6,519.0 L607.2,519.8 L606.7,520.6 L606.1,521.4 L605.5,522.2 L604.8,522.9 L604.1,523.6 L603.4,524.3 L602.6,525.0 L601.8,525.6 L601.0,526.2 L600.2,526.7 L599.4,527.2 L598.5,527.6 L597.6,528.0 L596.8,528.3 L595.9,528.5 L595.1,528.7 L594.3,528.8 L593.5,528.9 L592.8,528.9 L592.0,528.8 L591.3,528.7 L590.7,528.5 L590.1,528.2 L589.5,527.9 L589.0,527.5 L588.6,527.1" stroke-width="1.62" />
<path d="M609.8,511.7 L610.2,512.2 L610.6,512.8 L610.9,513.4 L611.1,514.1 L611.2,514.8 L611.3,515.5 L611.3,516.3 L611.3,517.1 L611.2,517.9 L611.0,518.7 L610.7,519.6 L610.4,520.4 L610.0,521.3 L609.5,522.1 L609.0,523.0 L608.4,523.8 L607.8,524.6 L607.2,525.4 L606.4,526.1 L605.7,526.8 L604.9,527.5 L604.1,528.1 L603.2,528.7 L602.4,529.2 L601.5,529.7 L600.6,530.1 L599.7,530.5 L598.8,530.8 L598.0,531.0 L597.1,531.2 L596.2,531.3 L595.4,531.4 L594.6,531.3 L593.8,531.2 L593.1,531.1 L592.4,530.9 L591.8,530.6 L591.2,530.2 L590.7,529.8 L590.2,529.3" stroke-width="2.25" />
<ellipse cx="579.5" cy="498.5" rx="9.6" ry="8.3" transform="rotate(-40 579.5 498.5)" stroke-width="2.50" fill="#fff"/>
<ellipse cx="579.1" cy="498.5" rx="5" ry="4.1" transform="rotate(-40 579.1 498.5)" stroke-width="2.50" fill="none"/>
<path d="M629,535.8 L645.5,553 C648,557 647,563 643,567 C639,571 634,573 628,571.5 L624.5,567 L610.6,552.4 Z" stroke-width="2.50" fill="#fff"/>
<ellipse cx="619.8" cy="544.1" rx="12.4" ry="10.8" transform="rotate(-42 619.8 544.1)" stroke-width="2.50" fill="#fff"/>
<path d="M606.5,537 L613,548 L625,541 L619,530 Z" stroke-width="0.12" fill="#fff" stroke="none"/>
<path d="M619,532.5 L625.5,540 C624,544 619,547 615,547.5 L608.5,540" stroke-width="2.50" fill="#fff"/>
<ellipse cx="612.3" cy="536.3" rx="7" ry="6.3" transform="rotate(-40 612.3 536.3)" stroke-width="2.50" fill="#fff"/>
<ellipse cx="612.6" cy="536.2" rx="3.2" ry="2.8" transform="rotate(-40 612.6 536.2)" stroke-width="2.25" fill="none"/>
<path d="M673.9,603 L684.5,612.5 M670,607 L681,617" stroke-width="2.25" />
<ellipse cx="647.0" cy="574.5" rx="2.4" ry="5.2" transform="rotate(47 647.0 574.5)" stroke-width="1.75" fill="#fff"/>
<ellipse cx="649.85" cy="577.55" rx="2.4" ry="5.2" transform="rotate(47 649.85 577.55)" stroke-width="1.75" fill="#fff"/>
<ellipse cx="652.7" cy="580.6" rx="2.4" ry="5.2" transform="rotate(47 652.7 580.6)" stroke-width="1.75" fill="#fff"/>
<ellipse cx="655.55" cy="583.65" rx="2.4" ry="5.2" transform="rotate(47 655.55 583.65)" stroke-width="1.75" fill="#fff"/>
<ellipse cx="658.4" cy="586.7" rx="2.4" ry="5.2" transform="rotate(47 658.4 586.7)" stroke-width="1.75" fill="#fff"/>
<ellipse cx="661.25" cy="589.75" rx="2.4" ry="5.2" transform="rotate(47 661.25 589.75)" stroke-width="1.75" fill="#fff"/>
<ellipse cx="664.1" cy="592.8" rx="2.4" ry="5.2" transform="rotate(47 664.1 592.8)" stroke-width="1.75" fill="#fff"/>
<ellipse cx="666.95" cy="595.85" rx="2.4" ry="5.2" transform="rotate(47 666.95 595.85)" stroke-width="1.75" fill="#fff"/>
<ellipse cx="669.8" cy="598.9" rx="2.4" ry="5.2" transform="rotate(47 669.8 598.9)" stroke-width="1.75" fill="#fff"/>
<ellipse cx="672.65" cy="601.95" rx="2.4" ry="5.2" transform="rotate(47 672.65 601.95)" stroke-width="1.75" fill="#fff"/>
<path d="M683,611 C679,614 678,620 681.5,623 C685,626 692,625.5 695,621" stroke-width="2.50" fill="#fff"/>
<ellipse cx="690.5" cy="616.3" rx="7.8" ry="6.3" transform="rotate(-42 690.5 616.3)" stroke-width="2.50" fill="#fff"/>
<ellipse cx="691.5" cy="617.3" rx="4" ry="3.2" transform="rotate(-42 691.5 617.3)" stroke-width="1.75" fill="none"/>
<path d="M37.9,483 C38,490 38.6,494.4 39.5,497 C41,502 43.6,505.9 47,509.5 L65.9,527.5" stroke-width="2.75" />
<path d="M48.7,483.6 C49,490 49.4,494.4 51,497.5 C52,500 53.7,501.6 56,504 L69.5,517.4" stroke-width="2.75" />
<path d="M76,518.8 L107.6,539 M70.2,533.2 L100.4,548.3" stroke-width="2.75" />
<path d="M80,524 L88,529 M78,529 L87,533.5 M76.5,533.5 L85,537.5" stroke-width="1.88" />
<ellipse cx="73" cy="526" rx="6.2" ry="10.8" transform="rotate(25 73 526)" stroke-width="2.75" fill="#fff"/>
<ellipse cx="74.5" cy="525" rx="3.8" ry="8.8" transform="rotate(25 74.5 525)" stroke-width="1.75" fill="none"/>
<ellipse cx="102.5" cy="544" rx="4.2" ry="6.6" transform="rotate(30 102.5 544)" stroke-width="2.75" fill="#fff"/>
<path d="M101.1,546 C104,550 108,555 110.4,559 C114,566 116.2,575 116.5,582.3 L117.1,609.4" stroke-width="2.75" />
<path d="M105.4,541.8 C109,546 112,551 114.7,554.7 C119,562 121.9,572 123.3,584.8 L123.9,609.4" stroke-width="2.75" />
<path d="M114.6,611.5 L124.5,611.5" stroke-width="5.62" stroke-linecap="butt"/>
<path d="M114,614.3 L112.8,637.1 M124.5,611.9 L123.9,635.9" stroke-width="2.50" />
<path d="M119,620.5 L117.7,660" stroke-width="2.25" />
<path d="M117.7,660 L116.6,719.7 C117.1,726.3 117.9,733.0 119.8,739.4 C121.5,745.1 124.4,750.4 127.5,755.5 M129.6,758.5 C134.0,764.5 137.7,771.1 142.8,776.6 C149.5,783.8 156.8,790.5 164.7,796.3 C173.7,802.9 183.3,808.6 193.2,813.8 C201.6,818.2 210.4,822.0 219.4,824.8 C228.4,827.6 237.8,828.8 247.0,830.7 M252.5,831.2 L270.7,832" stroke-width="1.75" />
<path d="M291.6,829.8 C298,829 303,827 309,825.1 C315,823 322,820 329.6,817.2" stroke-width="1.75" />
<path d="M39.2,427.2 L44.7,425.9 C46,425 46.8,424 46.5,422.9 C45,420.5 42,420.5 41,421 C38,422 36,423 34.9,424.1 L33.6,423.5 C34,420 36,418 38.5,416.7 C42,414.5 46,413 49.6,413 C54,413 57,414.5 58.2,416.1 C59.5,418 60,420 59.5,422.2 C58.5,425 56.5,427 54.5,428.4 C52,430 50,430.8 47.2,430.9 C44,431 41,430.8 38.5,430.2 Z" stroke-width="2.75" fill="#fff"/>
<path d="M39,429 C44,430.5 50,430.5 54.5,428.4" stroke-width="3.25" />
<ellipse cx="52.1" cy="417.9" rx="3.5" ry="1.8" transform="rotate(-10 52.1 417.9)" stroke-width="2.50" fill="none"/>
<path d="M50.9,431.5 L50.9,437.6 L63.8,445.6 L63.8,454.2" stroke-width="2.00" />
<ellipse cx="45" cy="445" rx="4.4" ry="3.0" transform="rotate(-15 45 445)" stroke-width="2.25" fill="none"/>
<path d="M43,447 L46.5,443.5" stroke-width="1.50" />
<path d="M44.1,448.1 L44.1,466" stroke-width="2.00" />
<path d="M36.6,474 L36.6,481 C38,485 50,485 52.2,481 L52.2,474" stroke-width="2.75" fill="#fff"/>
<ellipse cx="44.4" cy="474" rx="7.8" ry="4.2" transform="rotate(0 44.4 474)" stroke-width="2.75" fill="#fff"/>
<path d="M38.5,468 L38.5,473.5 C40,477 49,477 50.5,473.5 L50.5,468" stroke-width="2.50" fill="#fff"/>
<ellipse cx="44.5" cy="468" rx="6" ry="3.5" transform="rotate(0 44.5 468)" stroke-width="2.50" fill="#fff"/>
<ellipse cx="44.5" cy="467.8" rx="2" ry="1.2" transform="rotate(0 44.5 467.8)" stroke-width="2.00" fill="none"/>
<path d="M60,458 L60,470 M68,458 L68,470" stroke-width="2.25" />
<ellipse cx="64" cy="457.5" rx="4" ry="2" transform="rotate(0 64 457.5)" stroke-width="2.25" fill="#fff"/>
<path d="M60.5,461 C62,462.8 66,462.8 67.5,461" stroke-width="1.75" />
<path d="M60.5,464.5 C62,466.3 66,466.3 67.5,464.5" stroke-width="1.75" />
<path d="M60.5,468 C62,469.8 66,469.8 67.5,468" stroke-width="1.75" />
<path d="M56.4,474 L56.4,477 C58,481.5 70,481.5 71.8,477 L71.8,474" stroke-width="2.75" fill="#fff"/>
<ellipse cx="64.1" cy="473.5" rx="7.7" ry="4.3" transform="rotate(0 64.1 473.5)" stroke-width="2.75" fill="#fff"/>
<ellipse cx="64.1" cy="472.5" rx="3.8" ry="2.0" transform="rotate(0 64.1 472.5)" stroke-width="1.75" fill="none"/>
<path d="M329.6,663.7 L304.4,663.7 C296,663.7 290,667 285,676 C281,684 279,690 278.8,700 L278,781" stroke-width="2.75" />
<path d="M329.6,669.7 L304.4,669.7 C299,669.7 294,672 290,678 C287,683 285,690 284.8,700 L285.5,781" stroke-width="2.75" />
<path d="M276.5,782 L287,782" stroke-width="5.62" stroke-linecap="butt"/>
<path d="M276.5,784.4 L277.7,841.4 C279,853 281,862 285.8,869.3 C292,880 299,887 306.7,892.6 C315,899 324,903.5 334.7,906.5 C343,909 351,911 360.2,911.2 C375,911.5 390,907 400,904.2 L441.6,895 C452,890 462,884 468.2,878.6 C472,874 475,869 481.6,862.2" stroke-width="2.75" />
<path d="M287,784.4 L287,836.7 C288,848 290,857 295.1,864.7 C300,873 306,880 313.7,885.6 C322,892 331,897 341.6,899.5 C350,901.5 360,902 369.5,901.9 C380,901 390,898 400,894.9 L437.5,886 C450,881 460,877 466.2,870 C471,864 473,860 472.3,852 C472,846 470,840 466,833" stroke-width="2.75" />
<path d="M324.2,814.5 L368.6,787.1 C371,785.5 374,786.5 375.5,789 C376.5,791 376,794 374.8,796 L329,824" stroke-width="2.50" />
<path d="M325.5,817.8 L334.4,812.8" stroke-width="1.88" />
<path d="M375.5,789.8 L398,774.1" stroke-width="2.00" />
<path d="M401,762.5 L420,751.5 L427,763.5 L406,776 Z" stroke-width="0.12" fill="#fff" stroke="none"/>
<path d="M401,762.8 L420.5,751.5 M405.5,776.3 L425.5,764.8" stroke-width="2.50" />
<ellipse cx="423.5" cy="758.0" rx="3.6" ry="6.9" transform="rotate(-32 423.5 758.0)" stroke-width="2.38" fill="#fff"/>
<ellipse cx="417.7" cy="761.3" rx="3.6" ry="6.9" transform="rotate(-32 417.7 761.3)" stroke-width="2.38" fill="#fff"/>
<ellipse cx="411.9" cy="764.6" rx="3.6" ry="6.9" transform="rotate(-32 411.9 764.6)" stroke-width="2.38" fill="#fff"/>
<ellipse cx="406.1" cy="767.9000000000001" rx="3.6" ry="6.9" transform="rotate(-32 406.1 767.9000000000001)" stroke-width="2.38" fill="#fff"/>
<ellipse cx="400.3" cy="771.2" rx="3.6" ry="6.9" transform="rotate(-32 400.3 771.2)" stroke-width="2.38" fill="#fff"/>
<ellipse cx="400.3" cy="771.2" rx="1.3" ry="2.0" transform="rotate(-32 400.3 771.2)" stroke-width="1.75" fill="none"/>
<path d="M423.1,754.5 C428,751 434,749.4 439.5,749.4 C445,749.4 449,750.5 451.8,752.4 C456,755 460,758 462.1,761.7 C463.5,764 464.3,766 464.1,767.8" stroke-width="2.50" />
<path d="M425.1,763.7 C430,760 434,757.6 439.5,757.6 C444,757.6 447,758.5 449.8,759.6 C453,761 455.5,763.5 457,765.8 C458,767 458.7,768.5 459,769.9" stroke-width="2.50" />
<path d="M459,769.9 C460,771.5 463,771 464.1,767.8" stroke-width="2.50" />
<path d="M462,771 L464.1,778" stroke-width="1.75" />
<path d="M462,778 L469,778.5 C472,780 473,786 471,789 L465,789.5" stroke-width="2.50" fill="#fff"/>
<ellipse cx="462.3" cy="783.8" rx="3.3" ry="5.8" transform="rotate(-10 462.3 783.8)" stroke-width="2.50" fill="#fff"/>
<path d="M434.4,784.3 L462.1,821.2" stroke-width="2.25" />
<ellipse cx="430.8" cy="779.2" rx="6.2" ry="6.0" transform="rotate(0 430.8 779.2)" stroke-width="2.50" fill="#fff"/>
<path d="M426.5,776 C428,774 432,774 434,776 M425.5,779 C427,777 433,777 435,779" stroke-width="1.62" />
<ellipse cx="432" cy="781.5" rx="3" ry="2.8" transform="rotate(0 432 781.5)" stroke-width="2.00" fill="none"/>
<path d="M459.8,826.4 C461,834 468,838 469.7,841.7 C472,846 473,850 473,853.8 C473,859 472.5,863 470.8,866.9 C468,870 465,872.5 460.9,874.6 L450,880" stroke-width="2.75" />
<path d="M459.8,823.1 C460,821 463,819.8 466.4,819.8 C468,819.8 469,820.5 470,822 L478.5,833 L491.6,840.6" stroke-width="2.50" />
<path d="M459.8,823.1 L459.8,826.4" stroke-width="2.50" />
<path d="M472,831.5 L485,859.5 L477,839 Z" stroke-width="2.50" fill="#000"/>
<path d="M485,842.8 C489,841.5 492,841.5 496,841.7 C500,843 502.5,846 502.5,849.4 L503.1,859.2" stroke-width="2.75" />
<path d="M483.9,861.4 L496,859.8" stroke-width="2.50" />
<path d="M482.8,862.5 C481,863 480,864 479.5,864.7 C478,867 477,869 476.3,871.3 C473,876 470,879 466.4,881.1 L450,889.9" stroke-width="2.75" />
<ellipse cx="493.2" cy="851.5" rx="7.2" ry="9.2" transform="rotate(-20 493.2 851.5)" stroke-width="2.50" fill="#fff"/>
<ellipse cx="493.6" cy="852.5" rx="4.5" ry="5.0" transform="rotate(-20 493.6 852.5)" stroke-width="2.00" fill="none"/>
<ellipse cx="493.6" cy="853" rx="1.8" ry="2.0" transform="rotate(0 493.6 853)" stroke-width="2.25" fill="none"/>
<path d="M495,854.5 L504.7,868" stroke-width="2.00" />
<ellipse cx="505.5" cy="869.5" rx="2.0" ry="4.3" transform="rotate(-48 505.5 869.5)" stroke-width="1.75" fill="#fff"/>
<ellipse cx="508.1" cy="872.4" rx="2.0" ry="4.3" transform="rotate(-48 508.1 872.4)" stroke-width="1.75" fill="#fff"/>
<ellipse cx="510.7" cy="875.3" rx="2.0" ry="4.3" transform="rotate(-48 510.7 875.3)" stroke-width="1.75" fill="#fff"/>
<ellipse cx="513.3" cy="878.2" rx="2.0" ry="4.3" transform="rotate(-48 513.3 878.2)" stroke-width="1.75" fill="#fff"/>
<ellipse cx="515.9" cy="881.1" rx="2.0" ry="4.3" transform="rotate(-48 515.9 881.1)" stroke-width="1.75" fill="#fff"/>
<path d="M512,880 C509,884 510,892 514,894.5 C518,897 524,896.5 527,893" stroke-width="2.75" fill="#fff"/>
<ellipse cx="520" cy="886.6" rx="8.3" ry="8.0" transform="rotate(-40 520 886.6)" stroke-width="2.75" fill="#fff"/>
<ellipse cx="521" cy="887.5" rx="5.2" ry="5" transform="rotate(-40 521 887.5)" stroke-width="2.00" fill="none"/>
<path d="M329.6,661.5 L329.6,673 M333,660.5 L333,675 M336,660.5 L336,675 M339,660.5 L339,675 M342,660.5 L342,675 M345,660.5 L345,675 M348.5,660.5 L348.5,675" stroke-width="2.12" />
<path d="M331,660.5 L349,660.5 M331,675 L349,675" stroke-width="2.00" />
<path d="M350.6,659.5 C355,657 359,657 361,658 C363.5,660 364,670 363,676 C362,680 355,681 350.6,679.5 Z" stroke-width="2.75" fill="#fff"/>
<path d="M356,658 C358,662 358,676 356,680" stroke-width="1.75" />
<path d="M365,661 C369,657 373,657 375.5,661 C377.5,665 377.5,674 375.5,677 C373,681 369,681 365,677 Z" stroke-width="2.50" fill="#fff"/>
<path d="M364.5,669 L377.5,669 M368,661 L368,677 M371.5,661 L371.5,677" stroke-width="1.62" />
<path d="M378.4,663 C381,660.5 387,660.5 390.9,662.5 L391,677 C387,679.5 381,679.5 378.4,677.5 Z" stroke-width="2.50" fill="#fff"/>
<path d="M381.5,662 L381.5,678 M384.5,661.5 L384.5,678.5 M387.5,661.5 L387.5,678.5" stroke-width="1.75" />
<path d="M390.9,665.3 L411,665.3 C412.5,667 412.5,675 411,676.8 L390.9,676.8" stroke-width="2.50" fill="#fff"/>
<path d="M394,665.5 L394,676.5 M397,665.5 L397,676.5 M400,665.5 L400,676.5 M403,665.5 L403,676.5 M406,665.5 L406,676.5 M409,665.5 L409,676.5" stroke-width="1.62" />
<path d="M412,672 L423,672" stroke-width="2.00" />
<path d="M423,665 C425,662 434,662 436.5,665 L436.8,681 C434,684 425,684 423,681 Z" stroke-width="2.75" fill="#fff"/>
<path d="M426,663 L426,683 M429.5,662.5 L429.5,683.5 M433,663 L433,683" stroke-width="1.62" />
<path d="M436.8,672 L443,672" stroke-width="2.00" />
<path d="M443.5,668.5 C446,667.5 449,667.5 451,669 C452,672 452,676 451,679 C449,680.5 446,680.5 443.5,679.5 Z" stroke-width="2.50" fill="#fff"/>
<path d="M446.5,668 L446.5,680" stroke-width="1.62" />
<path d="M570,693.4 L549,692 C537,693 528,699 521.9,707 C513,716 506,725 502,734 C496,746 493.5,757 493.5,768.5 C493.5,780 497,790 502,798 C510,808 518,813 526.8,815.3 C540,818 555,817 573.6,816.5" stroke-width="2.75" />
<path d="M568.6,700.8 L551.4,700.8 C542,702 534,707 526.8,714 C519,721 513,729 509.5,736.5 C505,746 503.4,757 503.4,768.5 C503.4,778 506,785 509.5,790.7 C515,798 521,802 529,804 C540,806.5 555,806.7 573.6,806.7" stroke-width="2.75" />
<ellipse cx="571.5" cy="699.6" rx="3.0" ry="9.8" transform="rotate(12 571.5 699.6)" stroke-width="2.25" fill="#fff"/>
<ellipse cx="575.1" cy="699.6" rx="3.0" ry="9.8" transform="rotate(12 575.1 699.6)" stroke-width="2.25" fill="#fff"/>
<ellipse cx="578.7" cy="699.6" rx="3.0" ry="9.8" transform="rotate(12 578.7 699.6)" stroke-width="2.25" fill="#fff"/>
<ellipse cx="582.3" cy="699.6" rx="3.0" ry="9.8" transform="rotate(12 582.3 699.6)" stroke-width="2.25" fill="#fff"/>
<path d="M584.7,700.8 L625.3,708" stroke-width="2.00" />
<path d="M626.5,704 C623,704 622,708 623.5,712 C624.5,714.5 627,716.5 630,717.5 L633,717 L630.5,704.5 Z" stroke-width="2.50" fill="#fff"/>
<ellipse cx="632.3" cy="711.2" rx="3.7" ry="6.3" transform="rotate(-25 632.3 711.2)" stroke-width="2.50" fill="#fff"/>
<ellipse cx="576.5" cy="809" rx="3.0" ry="9.8" transform="rotate(0 576.5 809)" stroke-width="2.25" fill="#fff"/>
<ellipse cx="580.1" cy="809" rx="3.0" ry="9.8" transform="rotate(0 580.1 809)" stroke-width="2.25" fill="#fff"/>
<ellipse cx="583.7" cy="809" rx="3.0" ry="9.8" transform="rotate(0 583.7 809)" stroke-width="2.25" fill="#fff"/>
<ellipse cx="587.3" cy="809" rx="3.0" ry="9.8" transform="rotate(0 587.3 809)" stroke-width="2.25" fill="#fff"/>
<path d="M588.3,809 L627.7,809" stroke-width="2.00" />
<path d="M629,804.2 L633,804.2 C636,805 636.5,812 633,813 L629,813 Z" stroke-width="2.50" fill="#fff"/>
<ellipse cx="629" cy="808.6" rx="2.6" ry="4.4" transform="rotate(0 629 808.6)" stroke-width="2.50" fill="#fff"/>
<path d="M60.8,917.6 L77.7,891.4 L81.8,894 L82.3,897.5 L105.4,883.7 L109.5,884.7 L110.5,886.3 L110.5,906.3 L82.8,921.2 L82.8,929.9 Z" stroke-width="2.75" fill="#fff"/>
<path d="M65,917.2 L80.5,893.5 M82.3,900.8 L108,886.8 L110.5,886.3" stroke-width="2.00" />
<text transform="translate(81.3,919.3) skewY(-27) scale(0.62,1)" x="0" y="0" style="text-anchor:start;font-size:18.5px;stroke-width:1.4px">FWD</text>
<text x="90.6" y="951.5" style="font-size:16px;letter-spacing:0.3px">5AJ1351-7290</text>
<line x1="266" y1="894.9" x2="291.6" y2="878.6" stroke-width="2.00"/>
<path d="M208.5,552.7 L208.3,552.5 L208.1,552.3 L207.9,552.0 L207.8,551.7 L207.7,551.3 L207.7,550.8 L207.7,550.4 L207.7,549.8 L207.8,549.3 L207.9,548.7 L208.1,548.0 L208.3,547.4 L208.5,546.7 L208.7,546.0 L209.0,545.3 L209.4,544.5 L209.7,543.8 L210.1,543.0 L210.5,542.3 L210.9,541.6 L211.3,540.8 L211.8,540.1 L212.3,539.4 L212.8,538.8 L213.3,538.1 L213.7,537.5 L214.2,537.0 L214.7,536.5 L215.2,536.0 L215.7,535.5 L216.2,535.1 L216.6,534.8 L217.1,534.5 L217.5,534.3 L217.9,534.1 L218.3,534.0 L218.6,533.9 L219.0,533.9 L219.3,534.0 L219.5,534.1" stroke-width="2.25" />
<path d="M212.8,555.3 L212.6,555.1 L212.4,554.9 L212.2,554.6 L212.1,554.2 L212.0,553.9 L212.0,553.4 L212.0,552.9 L212.0,552.4 L212.1,551.8 L212.2,551.2 L212.4,550.6 L212.6,550.0 L212.8,549.3 L213.0,548.6 L213.3,547.8 L213.7,547.1 L214.0,546.4 L214.4,545.6 L214.8,544.9 L215.2,544.1 L215.6,543.4 L216.1,542.7 L216.6,542.0 L217.1,541.4 L217.6,540.7 L218.0,540.1 L218.5,539.6 L219.0,539.0 L219.5,538.6 L220.0,538.1 L220.5,537.7 L220.9,537.4 L221.4,537.1 L221.8,536.9 L222.2,536.7 L222.6,536.6 L222.9,536.5 L223.3,536.5 L223.6,536.6 L223.8,536.7" stroke-width="2.25" />
<path d="M217.1,557.8 L216.9,557.7 L216.7,557.4 L216.5,557.2 L216.4,556.8 L216.3,556.4 L216.3,556.0 L216.3,555.5 L216.3,555.0 L216.4,554.4 L216.5,553.8 L216.7,553.2 L216.9,552.5 L217.1,551.8 L217.3,551.1 L217.6,550.4 L218.0,549.7 L218.3,548.9 L218.7,548.2 L219.1,547.5 L219.5,546.7 L219.9,546.0 L220.4,545.3 L220.9,544.6 L221.4,543.9 L221.9,543.3 L222.3,542.7 L222.8,542.1 L223.3,541.6 L223.8,541.1 L224.3,540.7 L224.8,540.3 L225.2,540.0 L225.7,539.7 L226.1,539.5 L226.5,539.3 L226.9,539.2 L227.2,539.1 L227.6,539.1 L227.9,539.2 L228.1,539.3" stroke-width="2.25" />
<path d="M221.4,560.4 L221.2,560.3 L221.0,560.0 L220.8,559.7 L220.7,559.4 L220.6,559.0 L220.6,558.6 L220.6,558.1 L220.6,557.6 L220.7,557.0 L220.8,556.4 L221.0,555.8 L221.2,555.1 L221.4,554.4 L221.6,553.7 L221.9,553.0 L222.3,552.3 L222.6,551.5 L223.0,550.8 L223.4,550.0 L223.8,549.3 L224.2,548.6 L224.7,547.9 L225.2,547.2 L225.7,546.5 L226.2,545.9 L226.6,545.3 L227.1,544.7 L227.6,544.2 L228.1,543.7 L228.6,543.3 L229.1,542.9 L229.5,542.5 L230.0,542.3 L230.4,542.0 L230.8,541.9 L231.2,541.7 L231.5,541.7 L231.9,541.7 L232.2,541.7 L232.4,541.9" stroke-width="2.25" />
<path d="M277.5,594.1 L277.3,593.9 L277.1,593.7 L276.9,593.4 L276.8,593.1 L276.7,592.7 L276.7,592.2 L276.7,591.8 L276.7,591.2 L276.8,590.7 L276.9,590.1 L277.1,589.4 L277.3,588.8 L277.5,588.1 L277.7,587.4 L278.0,586.7 L278.4,585.9 L278.7,585.2 L279.1,584.4 L279.5,583.7 L279.9,583.0 L280.3,582.2 L280.8,581.5 L281.3,580.8 L281.8,580.2 L282.3,579.5 L282.7,578.9 L283.2,578.4 L283.7,577.9 L284.2,577.4 L284.7,576.9 L285.2,576.5 L285.6,576.2 L286.1,575.9 L286.5,575.7 L286.9,575.5 L287.3,575.4 L287.6,575.3 L288.0,575.3 L288.3,575.4 L288.5,575.5" stroke-width="2.25" />
<path d="M281.8,596.7 L281.6,596.5 L281.4,596.3 L281.2,596.0 L281.1,595.6 L281.0,595.3 L281.0,594.8 L281.0,594.3 L281.0,593.8 L281.1,593.2 L281.2,592.6 L281.4,592.0 L281.6,591.4 L281.8,590.7 L282.0,590.0 L282.3,589.2 L282.7,588.5 L283.0,587.8 L283.4,587.0 L283.8,586.3 L284.2,585.5 L284.6,584.8 L285.1,584.1 L285.6,583.4 L286.1,582.8 L286.6,582.1 L287.0,581.5 L287.5,581.0 L288.0,580.4 L288.5,580.0 L289.0,579.5 L289.5,579.1 L289.9,578.8 L290.4,578.5 L290.8,578.3 L291.2,578.1 L291.6,578.0 L291.9,577.9 L292.3,577.9 L292.6,578.0 L292.8,578.1" stroke-width="2.25" />
<path d="M286.1,599.2 L285.9,599.1 L285.7,598.8 L285.5,598.6 L285.4,598.2 L285.3,597.8 L285.3,597.4 L285.3,596.9 L285.3,596.4 L285.4,595.8 L285.5,595.2 L285.7,594.6 L285.9,593.9 L286.1,593.2 L286.3,592.5 L286.6,591.8 L287.0,591.1 L287.3,590.3 L287.7,589.6 L288.1,588.9 L288.5,588.1 L288.9,587.4 L289.4,586.7 L289.9,586.0 L290.4,585.3 L290.9,584.7 L291.3,584.1 L291.8,583.5 L292.3,583.0 L292.8,582.5 L293.3,582.1 L293.8,581.7 L294.2,581.4 L294.7,581.1 L295.1,580.9 L295.5,580.7 L295.9,580.6 L296.2,580.5 L296.6,580.5 L296.9,580.6 L297.1,580.7" stroke-width="2.25" />
<path d="M290.4,601.8 L290.2,601.7 L290.0,601.4 L289.8,601.1 L289.7,600.8 L289.6,600.4 L289.6,600.0 L289.6,599.5 L289.6,599.0 L289.7,598.4 L289.8,597.8 L290.0,597.2 L290.2,596.5 L290.4,595.8 L290.6,595.1 L290.9,594.4 L291.3,593.7 L291.6,592.9 L292.0,592.2 L292.4,591.4 L292.8,590.7 L293.2,590.0 L293.7,589.3 L294.2,588.6 L294.7,587.9 L295.2,587.3 L295.6,586.7 L296.1,586.1 L296.6,585.6 L297.1,585.1 L297.6,584.7 L298.1,584.3 L298.5,583.9 L299.0,583.7 L299.4,583.4 L299.8,583.3 L300.2,583.1 L300.5,583.1 L300.9,583.1 L301.2,583.1 L301.4,583.3" stroke-width="2.25" />
<circle cx="719.5" cy="143" r="0.8" fill="#000" stroke="none"/>
<circle cx="447.6" cy="258.6" r="0.8" fill="#000" stroke="none"/>
<path d="M270.6,176 L286,159.5 L305.4,197.5 L204,298 M199,303 L125.3,373 L140.5,407 L149.3,399.8" stroke-width="2.00" />
<path d="M449,351 L428.7,328 L410,367 L520,491 M525,497 L670.6,663 L654.8,693.3 L640.6,680.7" stroke-width="2.00" />
</g>
</svg></body></html>
